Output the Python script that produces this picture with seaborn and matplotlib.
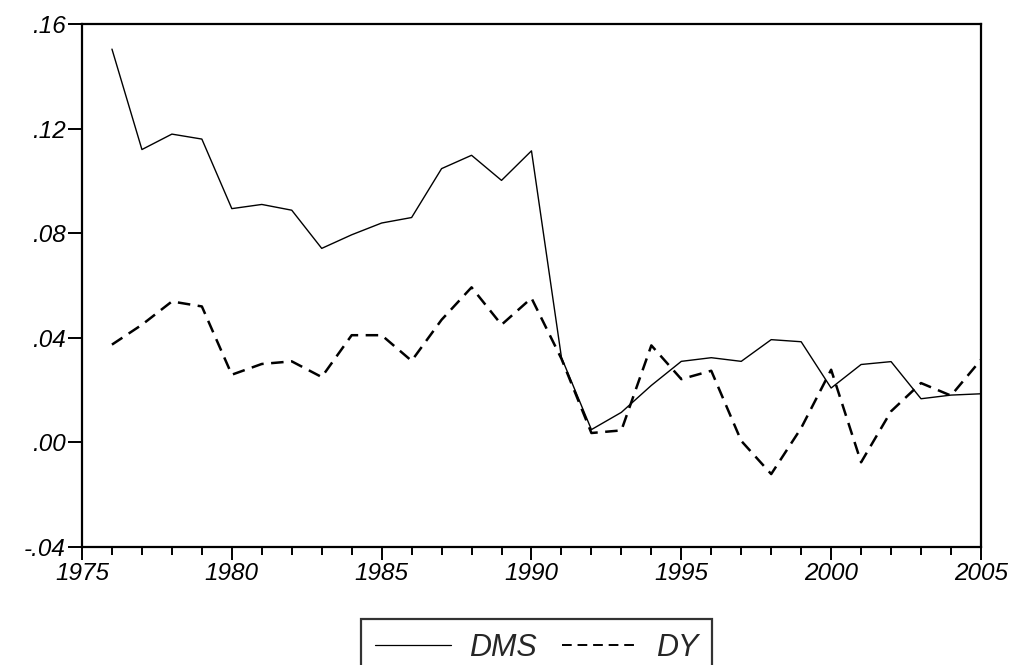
import matplotlib
matplotlib.use("Agg")
import matplotlib.pyplot as plt
import numpy as np
import pandas as pd
import seaborn as sns
from matplotlib.ticker import FixedLocator, FuncFormatter, MultipleLocator

years = list(range(1976, 2006))
dms = [0.1504, 0.1120, 0.1179, 0.1160, 0.0894, 0.0910, 0.0888, 0.0742, 0.0794, 0.0839,
       0.0860, 0.1047, 0.1098, 0.1002, 0.1115, 0.0325, 0.0049, 0.0115, 0.0218, 0.0310,
       0.0324, 0.0310, 0.0393, 0.0385, 0.0208, 0.0298, 0.0309, 0.0167, 0.0181, 0.0186]
dy = [0.0374, 0.0450, 0.0539, 0.0520, 0.0259, 0.0300, 0.0310, 0.0250, 0.0410, 0.0410,
      0.0312, 0.0469, 0.0593, 0.0450, 0.0552, 0.0320, 0.0036, 0.0046, 0.0371, 0.0242,
      0.0274, 0.0006, -0.0121, 0.0055, 0.0278, -0.0076, 0.0119, 0.0227, 0.0179, 0.0316]
series_names = ["DMS", "DY"]
y_ticks = [-0.04, 0.00, 0.04, 0.08, 0.12, 0.16]
x_ticks = [1975, 1980, 1985, 1990, 1995, 2000, 2005]

sns.set_theme(style="ticks")
plt.rcParams["font.family"] = ["Liberation Sans", "DejaVu Sans"]

df = pd.DataFrame({
    "year": years * 2,
    "value": dms + dy,
    "series": [series_names[0]] * len(years) + [series_names[1]] * len(years),
})

fig = plt.figure(figsize=(10.34, 6.65), dpi=100)
ax = fig.add_axes([0.0793, 0.1774, 0.8694, 0.7865])

# thin solid for DMS, heavier dashed for DY
sns.lineplot(data=df[df["series"] == "DMS"], x="year", y="value", color="black",
             lw=1.0, ax=ax, label="DMS")
sns.lineplot(data=df[df["series"] == "DY"], x="year", y="value", color="black",
             lw=1.8, ax=ax, label="DY")
ax.lines[1].set_dashes([5, 3])

ax.set_xlim(1975, 2005)
ax.set_ylim(-0.04, 0.16)
ax.xaxis.set_major_locator(FixedLocator(x_ticks))
ax.xaxis.set_minor_locator(MultipleLocator(1))
ax.yaxis.set_major_locator(FixedLocator(y_ticks))
ax.yaxis.set_major_formatter(FuncFormatter(lambda v, p: ("-" if v < -1e-9 else "") + f"{abs(v):.2f}"[1:]))
ax.set_xlabel("")
ax.set_ylabel("")

for sp in ax.spines.values():
    sp.set_linewidth(1.6)
    sp.set_color("black")
ax.tick_params(axis="x", which="major", direction="out", length=9, width=1.4,
               labelsize=17.5, pad=2, colors="black")
ax.tick_params(axis="x", which="minor", direction="out", length=5.5, width=1.4, colors="black")
ax.tick_params(axis="y", which="major", direction="out", length=10, width=1.4,
               labelsize=17.5, pad=2, colors="black")
for lab in ax.get_xticklabels() + ax.get_yticklabels():
    lab.set_fontstyle("italic")

# legend box sits low so its bottom edge runs off the figure, as in the original
ax.get_legend().remove()
handles, labels = ax.get_legend_handles_labels()
leg = fig.legend(handles, labels, loc="upper center", bbox_to_anchor=(0.519, 0.092),
                 ncol=2, frameon=True, fancybox=False, handlelength=2.5, columnspacing=0.8,
                 handletextpad=0.6, prop={"size": 22, "style": "italic"}, borderpad=0.45)
leg.get_frame().set_edgecolor("black")
leg.get_frame().set_linewidth(1.6)
leg.legend_handles[0].set_linewidth(0.9)
leg.legend_handles[1].set_linewidth(1.4)
leg.legend_handles[1].set_dashes([5, 3])

fig.savefig("out.png", dpi=100)
